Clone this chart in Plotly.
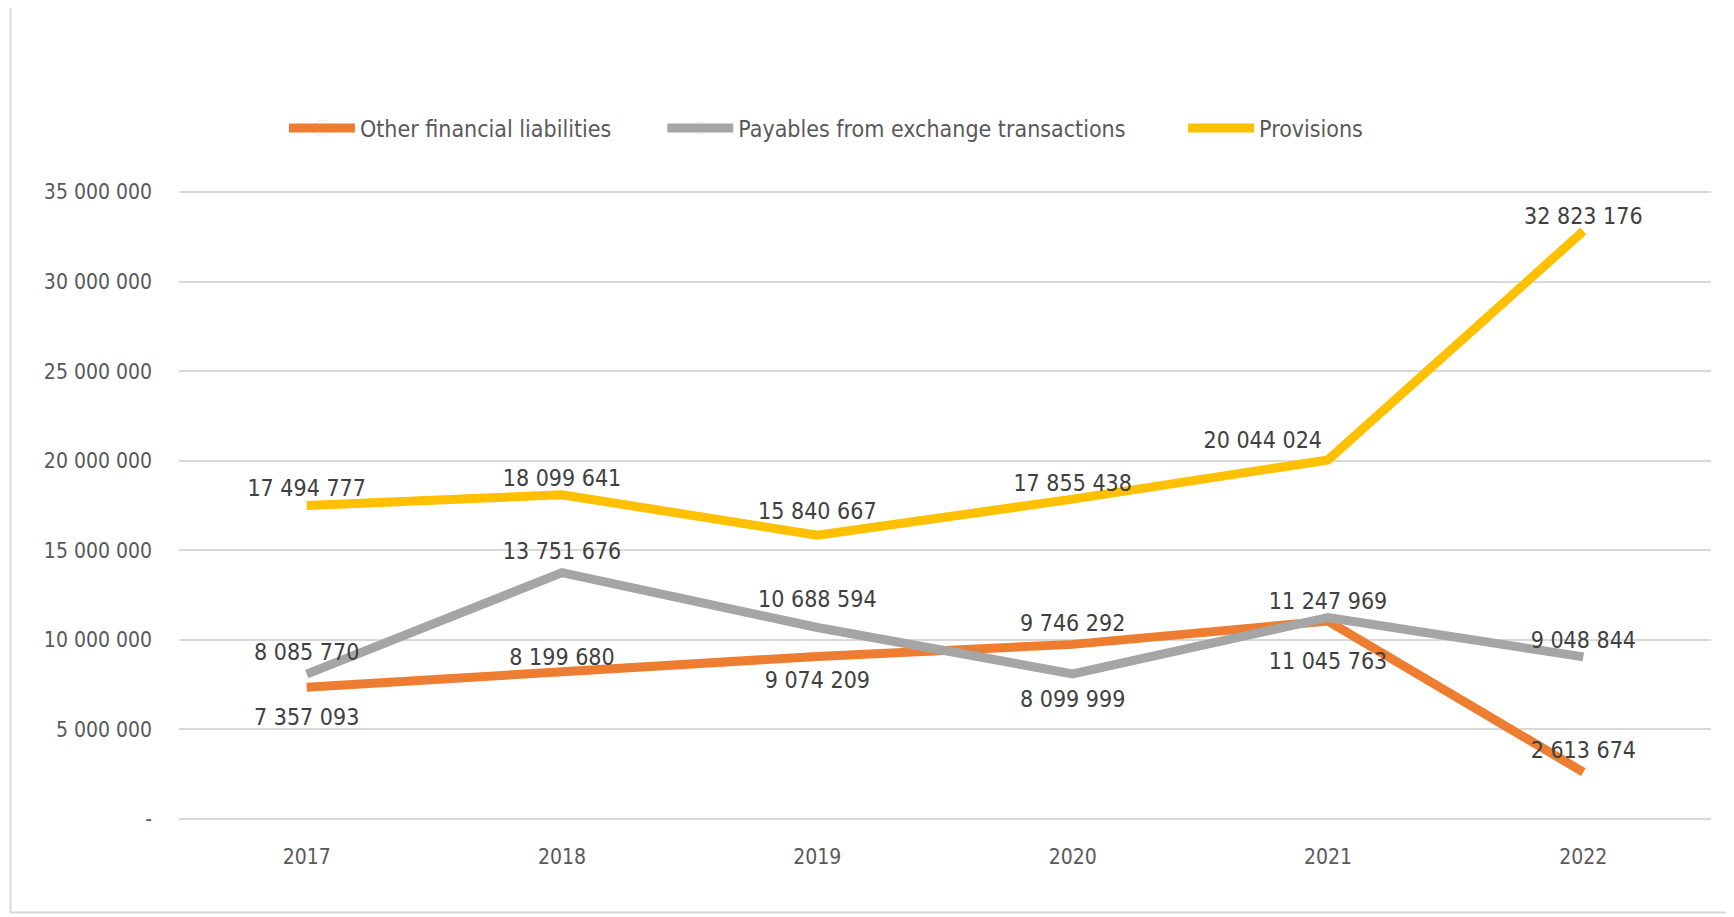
import plotly.graph_objects as go

years = ["2017", "2018", "2019", "2020", "2021", "2022"]
other_fin = [7357093, 8199680, 9074209, 9746292, 11045763, 2613674]
payables = [8085770, 13751676, 10688594, 8099999, 11247969, 9048844]
provisions = [17494777, 18099641, 15840667, 17855438, 20044024, 32823176]

y_ticks = [0, 5000000, 10000000, 15000000, 20000000, 25000000, 30000000, 35000000]
y_tick_text = ["-", "5 000 000", "10 000 000", "15 000 000", "20 000 000",
               "25 000 000", "30 000 000", "35 000 000"]


def fmt(v):
    return f"{v:,}".replace(",", " ")


FONT = "Liberation Sans Narrow, DejaVu Sans Condensed, Open Sans, sans-serif"

# label placement per point (position + invisible marker size = distance from line)
pos_other = ["bottom center", "top center", "bottom center", "top center", "bottom center", "top center"]
gap_other = [31, 1, 22, 10, 47, 11]
pos_pay = ["top center", "top center", "top center", "bottom center", "top center", "top center"]
gap_pay = [11, 11, 22, 24, 2, 4]
pos_prov = ["top center", "top center", "top center", "top center", "top left", "top center"]
gap_prov = [4, 4, 15, 2, 8, 1]

series = [
    ("Other financial liabilities", other_fin, "#ED7D31", pos_other, gap_other, 7),
    ("Payables from exchange transactions", payables, "#A5A5A5", pos_pay, gap_pay, 8),
    ("Provisions", provisions, "#FFC000", pos_prov, gap_prov, 0),
]

fig = go.Figure()
for name, vals, color, pos, gap, pad in series:
    fig.add_trace(go.Scatter(
        x=years, y=vals, name=name + "\u00a0" * pad, mode="lines+markers+text",
        line=dict(color=color, width=9),
        marker=dict(size=gap, color="rgba(0,0,0,0)", opacity=0),
        text=[fmt(v) for v in vals], textposition=pos,
        textfont=dict(family=FONT, size=23, color="#404040"),
        cliponaxis=False,
    ))

fig.update_layout(
    width=1726, height=909,
    margin=dict(l=171, r=23, t=183, b=97),
    plot_bgcolor="white", paper_bgcolor="white",
    font=dict(family=FONT, color="#595959"),
    showlegend=True,
    legend=dict(orientation="h", x=0.0685, xanchor="left", y=1.1, yanchor="middle",
                font=dict(size=23, color="#595959"), itemwidth=66,
                traceorder="normal"),
    xaxis=dict(type="category", range=[-0.5, 5.5], showgrid=False, showline=False,
               zeroline=False, tickfont=dict(size=21, color="#595959"),
               ticklabelstandoff=22),
    yaxis=dict(range=[-60000, 35060000], tickvals=y_ticks, ticktext=y_tick_text,
               showgrid=True, gridcolor="#D9D9D9", gridwidth=2, zeroline=False,
               tickfont=dict(size=21, color="#595959"), ticklabelstandoff=26),
    shapes=[dict(type="rect", xref="paper", yref="paper",
                 x0=-0.11, x1=1.012, y0=-0.147, y1=1.294,
                 line=dict(color="#D9D9D9", width=2), layer="below")],
)

fig.write_html("out.html")
